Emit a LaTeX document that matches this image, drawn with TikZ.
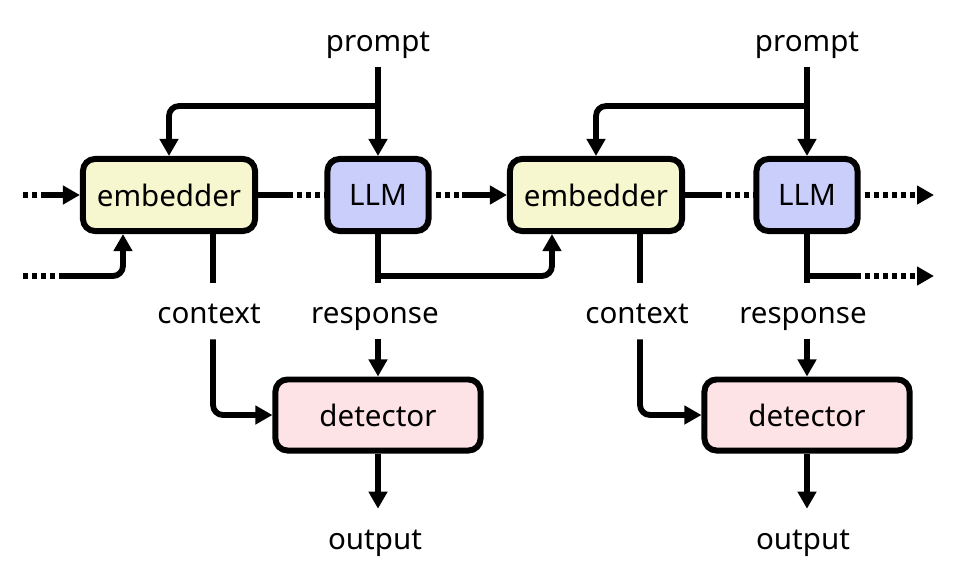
\documentclass[tikz,border=0pt]{standalone}
\usepackage{fontspec}
\setmainfont{Noto Sans}
\usetikzlibrary{arrows.meta, positioning, calc}
\definecolor{embfill}{HTML}{F6F7CE}
\definecolor{llmfill}{HTML}{C9CEFA}
\definecolor{detfill}{HTML}{FDE2E6}
\tikzset{
  block/.style={draw, line width=1.7pt, rounded corners=0.12cm, inner sep=0pt,
    minimum height=0.72cm, font=\fontsize{8.4pt}{10pt}\selectfont},
  lbl/.style={inner xsep=2pt, inner ysep=2.75pt, text height=1.6ex, text depth=0.3ex,
    font=\fontsize{8.4pt}{10pt}\selectfont},
  conn/.style={line width=1.65pt},
  arr/.style={conn, -{Triangle[length=0.17cm,width=0.18cm]}},
  dots/.style={conn, dash pattern=on 0.05cm off 0.04cm},
  dotsoff/.style={dots, dash phase=0.05cm}
}
\begin{document}
\begin{tikzpicture}[x=0.01cm, y=-0.01cm]

        \useasboundingbox (0,0) rectangle (970,575);

        % Vẽ các khối
        \node[block, fill=embfill, minimum width=1.72cm] (emb1) at (169,195) {embedder};
        \node[block, fill=llmfill, minimum width=1.01cm] (llm1) at (378,195) {LLM};
        \node[block, fill=detfill, minimum width=2.05cm, minimum height=0.71cm] (det1) at (378,415) {detector};
        \node[block, fill=embfill, minimum width=1.72cm] (emb2) at (596,195) {embedder};
        \node[block, fill=llmfill, minimum width=1.01cm] (llm2) at (807,195) {LLM};
        \node[block, fill=detfill, minimum width=2.05cm, minimum height=0.71cm] (det2) at (807,415) {detector};

        % Các nhãn
        \node[lbl] (prom1) at (378,39) {prompt};
        \node[lbl] (prom2) at (807,39) {prompt};
        \node[lbl] (ctx1) at (209,311) {context};
        \node[lbl] (ctx2) at (637,311) {context};
        \node[lbl] (resp1) at (375,311) {response};
        \node[lbl] (resp2) at (803,311) {response};
        \node[lbl] (out1) at (375,537) {output};
        \node[lbl] (out2) at (803,537) {output};

        % Đầu vào bên trái
        \coordinate (in1) at (23,195);
        \coordinate (in1b) at (41,195);
        \coordinate (in2) at (23,276);
        \coordinate (in2b) at (59,276);
        \draw[dots] (in1) -- (in1b);
        \draw[arr] (in1b) -- (emb1.west);
        \draw[dots] (in2) -- (in2b);
        \draw[arr, rounded corners=0.1cm] (in2b) -| ([xshift=-0.46cm]emb1.south);

        % Giai đoạn thứ nhất
        \coordinate (p1) at (prom1.south |- 0,106);
        \draw[arr] (prom1.south) -- (llm1.north);
        \draw[arr, rounded corners=0.1cm] (p1) -| (emb1.north);
        \coordinate (m1) at (293,195);
        \draw[conn] (emb1.east) -- (m1);
        \draw[dotsoff] (m1) -- (llm1.west);
        \draw[conn] ([xshift=0.44cm]emb1.south) coordinate (c1) -- (c1 |- ctx1.north);
        \draw[arr, rounded corners=0.1cm] (c1 |- ctx1.south) |- (det1.west);
        \draw[conn] (llm1.south) -- (llm1.south |- resp1.north);
        \draw[arr] (llm1.south |- resp1.south) -- (det1.north);
        \draw[arr] (det1.south) -- (det1.south |- out1.north);
        \coordinate (r1) at (llm1.south |- 0,276);
        \draw[arr, rounded corners=0.1cm] (r1) -| ([xshift=-0.44cm]emb2.south);
        \coordinate (m2) at (462,195);
        \draw[dotsoff] (llm1.east) -- (m2);
        \draw[arr] (m2) -- (emb2.west);

        % Giai đoạn thứ hai
        \coordinate (p2) at (prom2.south |- 0,106);
        \draw[arr] (prom2.south) -- (llm2.north);
        \draw[arr, rounded corners=0.1cm] (p2) -| (emb2.north);
        \coordinate (m3) at (722,195);
        \draw[conn] (emb2.east) -- (m3);
        \draw[dotsoff] (m3) -- (llm2.west);
        \draw[conn] ([xshift=0.44cm]emb2.south) coordinate (c2) -- (c2 |- ctx2.north);
        \draw[arr, rounded corners=0.1cm] (c2 |- ctx2.south) |- (det2.west);
        \draw[conn] (llm2.south) -- (llm2.south |- resp2.north);
        \draw[arr] (llm2.south |- resp2.south) -- (det2.north);
        \draw[arr] (det2.south) -- (det2.south |- out2.north);

        % Đầu ra bên phải
        \coordinate (o1) at (934,195);
        \draw[dotsoff, arr] (llm2.east) -- (o1);
        \coordinate (r2) at (llm2.south |- 0,276);
        \coordinate (m4) at (861,276);
        \coordinate (o2) at (934,276);
        \draw[conn] (r2) -- (m4);
        \draw[dotsoff, arr] (m4) -- (o2);

\end{tikzpicture}
\end{document}
